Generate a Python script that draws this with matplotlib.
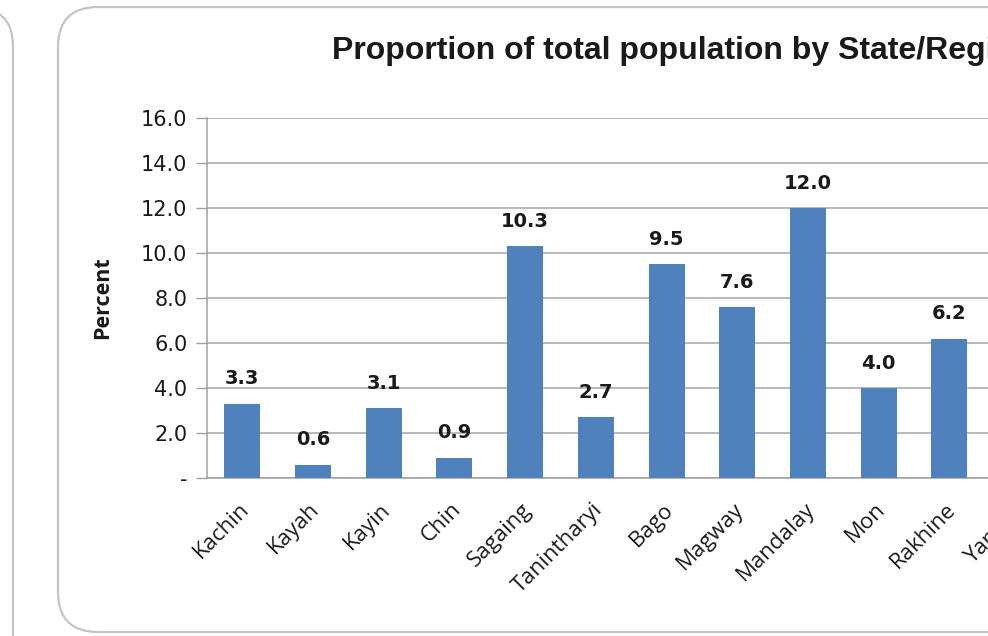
import matplotlib
matplotlib.use("Agg")
import matplotlib.pyplot as plt
import matplotlib.transforms as mtransforms
from matplotlib.patches import FancyBboxPatch

# data (percent of total population)
regions = ["Kachin", "Kayah", "Kayin", "Chin", "Sagaing", "Tanintharyi",
           "Bago", "Magway", "Mandalay", "Mon", "Rakhine", "Yangon"]
percent = [3.3, 0.6, 3.1, 0.9, 10.3, 2.7, 9.5, 7.6, 12.0, 4.0, 6.2, 14.3]
yticks = [0, 2, 4, 6, 8, 10, 12, 14, 16]

W, H = 988, 636
fig = plt.figure(figsize=(W / 100, H / 100), dpi=100)

# background layer in pixel units, for the rounded chart frames
bg = fig.add_axes([0, 0, 1, 1])
bg.set_xlim(0, W)
bg.set_ylim(H, 0)
bg.axis("off")
frame = "#c4c4c4"
bg.add_patch(FancyBboxPatch((-120, 8), 133, 720, boxstyle="round,pad=0,rounding_size=38",
                            fc="white", ec=frame, lw=1.6))
bg.add_patch(FancyBboxPatch((58, 7), 1100, 625, boxstyle="round,pad=0,rounding_size=40",
                            fc="white", ec=frame, lw=1.6))

# plot area: left edge at x=207px, y=0 at 478px, y=16 at 118px
step = 70.7
left = 207 / W
width = step * len(regions) / W
bottom = (H - 478) / H
height = (478 - 118) / H
ax = fig.add_axes([left, bottom, width, height])
ax.patch.set_alpha(0)

x = range(len(regions))
bars = ax.bar(x, percent, width=0.51, color="#4f81bd", zorder=3)
ax.set_xlim(-0.5, len(regions) - 0.5)
ax.set_ylim(0, 16)

ax.set_yticks(yticks)
ax.set_yticklabels(["-" if v == 0 else f"{v:.1f}" for v in yticks],
                   fontsize=15, color="#1a1a1a", family="DejaVu Sans")
ax.tick_params(axis="y", length=8, color="#a0a0a0", width=1, pad=6)
ax.grid(axis="y", color="#a6a6a6", lw=1.1, zorder=0)

ax.set_xticks(list(x))
ax.set_xticklabels(regions, rotation=45, ha="right", rotation_mode="anchor",
                   fontsize=16, family="Open Sans", color="#1a1a1a")
ax.tick_params(axis="x", length=0, pad=15)
shift = mtransforms.ScaledTranslation(-4 / 100, 0, fig.dpi_scale_trans)
for lab in ax.get_xticklabels():
    lab.set_transform(lab.get_transform() + shift)

for side in ["top", "right"]:
    ax.spines[side].set_visible(False)
ax.spines["left"].set_color("#a0a0a0")
ax.spines["bottom"].set_color("#a0a0a0")
ax.spines["left"].set_linewidth(1.1)
ax.spines["bottom"].set_linewidth(1.1)

for rect, v in zip(bars, percent):
    ax.annotate(f"{v:.1f}", (rect.get_x() + rect.get_width() / 2, v),
                xytext=(0, 11), textcoords="offset points", ha="center", va="bottom",
                fontsize=14, fontweight="bold", color="#1a1a1a", family="DejaVu Sans")

ax.set_ylabel("Percent", fontsize=15.5, fontweight="bold", family="Open Sans",
              color="#1a1a1a", labelpad=20)

fig.text(332 / W, 1 - 51 / H, "Proportion of total population by State/Region",
         fontsize=23, fontweight="bold", family="Liberation Sans", color="#1a1a1a",
         ha="left", va="center")

fig.savefig("out.png", dpi=100)
